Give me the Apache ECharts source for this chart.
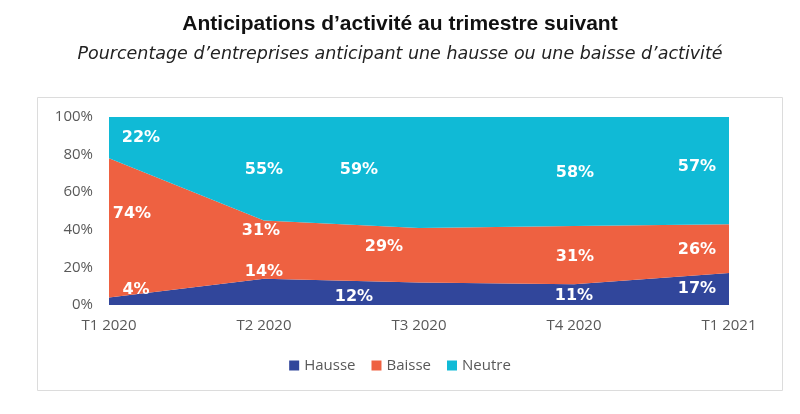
<!DOCTYPE html>
<html><head><meta charset="utf-8">
<script src="https://cdn.jsdelivr.net/npm/echarts@6/dist/echarts.min.js"></script>
<style>html,body{margin:0;padding:0;background:#fff}#c{width:800px;height:414px}</style>
</head><body><div id="c"></div>
<script>
var categories = ['T1 2020', 'T2 2020', 'T3 2020', 'T4 2020', 'T1 2021'];
var hausse = [4, 14, 12, 11, 17];
var baisse = [74, 31, 29, 31, 26];
var neutre = [22, 55, 59, 58, 57];
var yTicks = [0, 20, 40, 60, 80, 100];

// label placement (style only)
var offH = [[27,-8],[0,-7],[-65,14],[0,12],[-32,16]];
var offB = [[23,55],[-3,10],[-35,19],[1,31],[-32,26]];
var offN = [[32,21],[0,53],[-60,53],[1,56],[-32,50]];

function build(vals, offs) {
  return vals.map(function (v, i) {
    return { value: v, label: { offset: offs[i] } };
  });
}
var labelStyle = {
  show: true, position: 'inside', formatter: '{c}%', color: '#fff',
  fontFamily: 'DejaVu Sans', fontWeight: 'bold', fontSize: 16
};
function series(name, vals, offs, color) {
  return {
    name: name, type: 'line', stack: 'total', data: build(vals, offs),
    symbol: 'circle', symbolSize: 0.01, itemStyle: { color: color },
    lineStyle: { width: 0 }, areaStyle: { color: color, opacity: 1 },
    label: labelStyle,
    emphasis: { disabled: true }
  };
}
var chart = echarts.init(document.getElementById('c'), null, { renderer: 'canvas' });
chart.setOption({
  animation: false,
  backgroundColor: '#fff',
  color: ['#31469B', '#EE6141', '#10BAD6'],
  graphic: [{
    type: 'rect', shape: { x: 37.5, y: 97.5, width: 745, height: 293 },
    style: { fill: 'none', stroke: '#dcdcdc', lineWidth: 1 }, z: -1
  }],
  title: [{
    text: 'Anticipations d’activité au trimestre suivant', left: 'center', top: 9,
    textStyle: { fontFamily: 'Liberation Sans', fontWeight: 'bold', fontSize: 21, color: '#111' }
  }, {
    text: 'Pourcentage d’entreprises anticipant une hausse ou une baisse d’activité', left: 'center', top: 40,
    textStyle: { fontFamily: 'DejaVu Sans', fontStyle: 'italic', fontWeight: 'normal', fontSize: 17.5, color: '#222' }
  }],
  legend: {
    bottom: 36, left: 'center', itemWidth: 10, itemHeight: 10, itemGap: 16,
    icon: 'rect', itemStyle: { opacity: 1 },
    textStyle: { fontFamily: 'Open Sans', fontSize: 15, color: '#595959' },
    data: ['Hausse', 'Baisse', 'Neutre']
  },
  grid: { left: 109, right: 71, top: 117, bottom: 109 },
  xAxis: {
    type: 'category', data: categories, boundaryGap: false,
    axisLine: { show: false }, axisTick: { show: false },
    axisLabel: { fontFamily: 'Open Sans', fontSize: 15, color: '#595959', margin: 13 }
  },
  yAxis: {
    type: 'value', min: yTicks[0], max: yTicks[yTicks.length - 1], interval: 20,
    splitLine: { show: false }, axisLine: { show: false }, axisTick: { show: false },
    axisLabel: { formatter: '{value}%', fontFamily: 'Open Sans', fontSize: 15, color: '#595959', margin: 16 }
  },
  series: [
    series('Hausse', hausse, offH, '#31469B'),
    series('Baisse', baisse, offB, '#EE6141'),
    series('Neutre', neutre, offN, '#10BAD6')
  ]
});
</script></body></html>
